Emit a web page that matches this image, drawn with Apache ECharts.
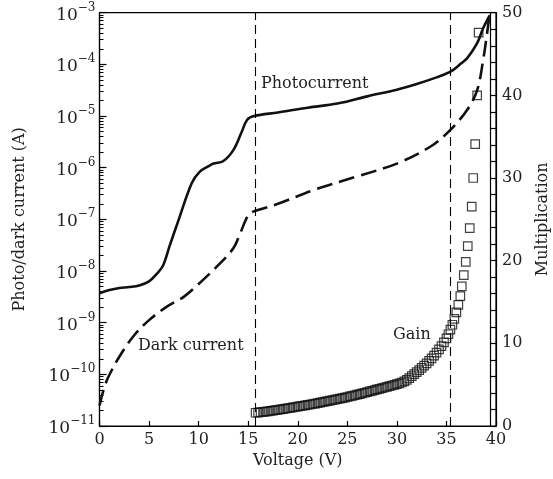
<!DOCTYPE html>
<html><head><meta charset="utf-8">
<script src="https://cdn.jsdelivr.net/npm/echarts@6/dist/echarts.min.js"></script>
<style>html,body{margin:0;padding:0;background:#fff}#c{width:553px;height:479px}</style>
</head><body><div id="c"></div><script>
// ---- data ----
const voltagePhoto = [0, 1, 2, 3, 4, 5, 5.8, 6.4, 7.1, 8, 9.3, 10.1, 11, 11.5, 12.5, 13.5, 14.3, 14.9, 15.6, 18, 21, 24, 27, 30, 32, 34, 35.4, 36.5, 37.1, 38.1, 38.7, 39.2, 39.4];
const photoCurrent = [3.72e-9, 4.27e-9, 4.68e-9, 4.9e-9, 5.25e-9, 6.3e-9, 8.9e-9, 1.26e-8, 3.16e-8, 1.0e-7, 5.0e-7, 8.3e-7, 1.07e-6, 1.2e-6, 1.35e-6, 2.19e-6, 4.68e-6, 8.5e-6, 1.0e-5, 1.17e-5, 1.45e-5, 1.74e-5, 2.4e-5, 3.24e-5, 4.17e-5, 5.6e-5, 7.2e-5, 1.05e-4, 1.32e-4, 2.57e-4, 5.0e-4, 7.8e-4, 8.9e-4];

const voltageDark = [0, 0.5, 1, 2, 3.4, 5, 6.8, 8.5, 10, 11.8, 13.5, 14.2, 15, 15.5, 18, 21.6, 26, 30, 33.4, 35.4, 37.1, 38.1, 38.7, 39.1, 39.3];
const darkCurrent = [2.5e-11, 5.75e-11, 9.8e-11, 2.19e-10, 5.4e-10, 1.12e-9, 2.04e-9, 3.16e-9, 5.6e-9, 1.2e-8, 2.75e-8, 5.4e-8, 1.2e-7, 1.41e-7, 2.0e-7, 3.7e-7, 6.8e-7, 1.2e-6, 2.57e-6, 5.4e-6, 1.32e-5, 3.16e-5, 1.2e-4, 4.0e-4, 7.8e-4];

const voltageGain = [15.75, 16, 16.25, 16.5, 16.75, 17, 17.25, 17.5, 17.75, 18, 18.25, 18.5, 18.75, 19, 19.25, 19.5, 19.75, 20, 20.25, 20.5, 20.75, 21, 21.25, 21.5, 21.75, 22, 22.25, 22.5, 22.75, 23, 23.25, 23.5, 23.75, 24, 24.25, 24.5, 24.75, 25, 25.25, 25.5, 25.75, 26, 26.25, 26.5, 26.75, 27, 27.25, 27.5, 27.75, 28, 28.25, 28.5, 28.75, 29, 29.25, 29.5, 29.75, 30, 30.25, 30.5, 30.75, 31, 31.25, 31.5, 31.75, 32, 32.25, 32.5, 32.75, 33, 33.25, 33.5, 33.75, 34, 34.25, 34.5, 34.75, 35, 35.2, 35.4, 35.6, 35.8, 36, 36.2, 36.4, 36.55, 36.75, 36.95, 37.15, 37.35, 37.55, 37.7, 37.9, 38.1, 38.25];
const gain = [1.60, 1.63, 1.67, 1.70, 1.74, 1.78, 1.82, 1.86, 1.91, 1.96, 2.00, 2.05, 2.10, 2.15, 2.20, 2.25, 2.30, 2.35, 2.40, 2.45, 2.50, 2.55, 2.60, 2.66, 2.71, 2.77, 2.82, 2.88, 2.94, 3.00, 3.06, 3.12, 3.18, 3.25, 3.31, 3.38, 3.44, 3.51, 3.58, 3.65, 3.72, 3.79, 3.86, 3.94, 4.02, 4.10, 4.18, 4.26, 4.34, 4.42, 4.50, 4.58, 4.66, 4.74, 4.82, 4.90, 4.98, 5.06, 5.15, 5.26, 5.40, 5.58, 5.80, 6.04, 6.28, 6.52, 6.77, 7.03, 7.30, 7.58, 7.88, 8.19, 8.52, 8.88, 9.26, 9.67, 10.12, 10.60, 11.10, 11.65, 12.25, 12.95, 13.75, 14.65, 15.70, 16.90, 18.25, 19.85, 21.75, 23.95, 26.55, 30.0, 34.1, 40.0, 47.6];

const markVoltages = [15.7, 35.4];

// ---- ticks ----
const xTicks = [0, 5, 10, 15, 20, 25, 30, 35, 40];
const leftTickExponents = [-11, -10, -9, -8, -7, -6, -5, -4, -3];
const rightTickLabels = [0, 10, 20, 30, 40, 50];
const rightTicks = [0, 2, 4, 6, 8, 10, 12, 14, 16, 18, 20, 22, 24, 26, 28, 30, 32, 34, 36, 38, 40, 42, 44, 46, 48, 50];

const leftMajor = leftTickExponents.map(e => Math.pow(10, e));
const leftMinor = [];
leftTickExponents.slice(0, -1).forEach(e => { for (let k = 2; k <= 9; k++) leftMinor.push(k * Math.pow(10, e)); });

const FONT = 'DejaVu Serif';
const TXT = '#222';

const chart = echarts.init(document.getElementById('c'), null, {renderer: 'canvas'});
chart.setOption({
  animation: false,
  backgroundColor: '#fff',
  grid: {left: 99.5, top: 12.7, width: 396.5, height: 413.3, show: true, borderColor: '#000', borderWidth: 1.2,
         backgroundColor: 'transparent', containLabel: false, outerBoundsMode: 'none'},
  xAxis: {
    type: 'value', min: 0, max: 40, interval: 5,
    axisLine: {lineStyle: {color: '#000', width: 1.2}},
    axisTick: {inside: true, length: 5, lineStyle: {color: '#000', width: 1.2}},
    splitLine: {show: false},
    axisLabel: {fontFamily: FONT, fontSize: 16, color: TXT, margin: 6, customValues: xTicks},
    name: 'Voltage (V)', nameLocation: 'middle', nameGap: 26,
    nameTextStyle: {fontFamily: FONT, fontSize: 16, color: TXT}
  },
  yAxis: [
    {
      type: 'log', logBase: 10, min: 1e-11, max: 1e-3, position: 'left',
      axisLine: {show: true, lineStyle: {color: '#000', width: 1.2}},
      axisTick: {inside: true, length: 7, customValues: leftMajor, lineStyle: {color: '#000', width: 1.2}},
      splitLine: {show: false},
      axisLabel: {
        customValues: leftMajor, margin: 4,
        formatter: v => '{b|10}{s|\u2212' + Math.round(-Math.log10(v)) + '}',
        rich: {
          b: {fontFamily: FONT, fontSize: 17, color: TXT, verticalAlign: 'bottom', lineHeight: 22},
          s: {fontFamily: FONT, fontSize: 12, color: TXT, verticalAlign: 'top', lineHeight: 12}
        }
      },
      name: 'Photo/dark current (A)', nameLocation: 'middle', nameGap: 72,
      nameTextStyle: {fontFamily: FONT, fontSize: 16, color: TXT}
    },
    {
      type: 'log', logBase: 10, min: 1e-11, max: 1e-3, position: 'left',
      axisLine: {show: false},
      axisTick: {inside: true, length: 4, customValues: leftMinor, lineStyle: {color: '#000', width: 1}},
      axisLabel: {show: false}, splitLine: {show: false}
    },
    {
      type: 'value', min: 0, max: 50, interval: 2, position: 'right',
      axisLine: {show: true, lineStyle: {color: '#000', width: 1.2}},
      axisTick: {inside: true, length: 6, customValues: rightTicks, lineStyle: {color: '#000', width: 1.2}},
      splitLine: {show: false},
      axisLabel: {customValues: rightTickLabels, fontFamily: FONT, fontSize: 16, color: TXT, margin: 6},
      name: 'Multiplication', nameLocation: 'middle', nameGap: 39,
      nameTextStyle: {fontFamily: FONT, fontSize: 16, color: TXT}
    },
    {
      type: 'value', min: 0, max: 50, position: 'right', offset: -6,
      axisLine: {show: true, lineStyle: {color: '#000', width: 1.2}},
      axisTick: {show: false}, axisLabel: {show: false}, splitLine: {show: false}
    }
  ],
  graphic: [
    {type: 'text', left: 261, top: 76, style: {text: 'Photocurrent', font: '16px "DejaVu Serif"', fill: TXT}},
    {type: 'text', left: 138, top: 338, style: {text: 'Dark current', font: '16px "DejaVu Serif"', fill: TXT}},
    {type: 'text', left: 393, top: 327, style: {text: 'Gain', font: '16px "DejaVu Serif"', fill: TXT}}
  ],
  series: [
    {
      name: 'Photocurrent', type: 'line', yAxisIndex: 0, showSymbol: false, smooth: 0.35,
      data: voltagePhoto.map((v, i) => [v, photoCurrent[i]]),
      lineStyle: {color: '#111', width: 2.6},
      markLine: {
        silent: true, symbol: 'none', label: {show: false},
        lineStyle: {color: '#000', width: 1.1, type: [9, 5]},
        data: markVoltages.map(v => ({xAxis: v}))
      }
    },
    {
      name: 'Dark current', type: 'line', yAxisIndex: 0, showSymbol: false, smooth: 0.35,
      data: voltageDark.map((v, i) => [v, darkCurrent[i]]),
      lineStyle: {color: '#111', width: 2.6, type: [16, 7]}
    },
    {
      name: 'Gain', type: 'scatter', yAxisIndex: 2, symbol: 'rect', symbolSize: 8.5,
      data: voltageGain.map((v, i) => [v, gain[i]]),
      itemStyle: {color: 'rgba(255,255,255,0)', borderColor: '#111', borderWidth: 1.2}
    }
  ]
});
</script></body></html>
